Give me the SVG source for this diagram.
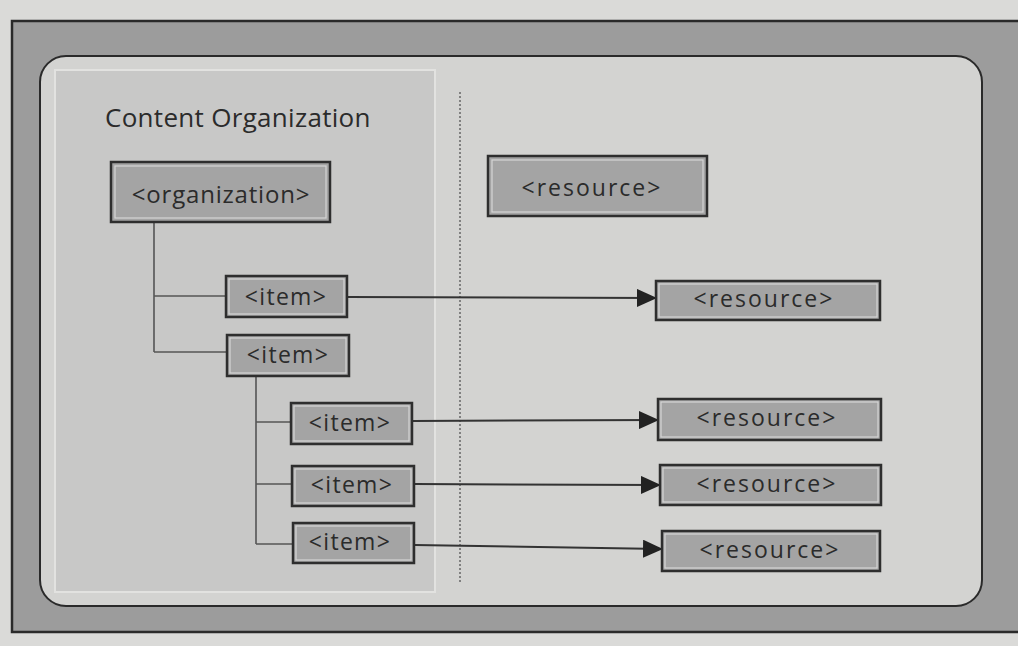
<svg xmlns="http://www.w3.org/2000/svg" width="1018" height="646" viewBox="0 0 1018 646">
<style>
.box{fill:#a4a4a4;stroke:#2e2e2e;stroke-width:2.5}
.hl{fill:none;stroke:#d6d6d6;stroke-width:1.2}
.lbl{font-family:"Open Sans","Noto Sans",sans-serif;fill:#2b2b2b;text-anchor:middle;dominant-baseline:central}
.it{font-size:23px;letter-spacing:1.3px}
.rs{font-size:23px;letter-spacing:2px}
.tree{fill:none;stroke:#555;stroke-width:1.6}
.arr{fill:none;stroke:#333;stroke-width:2;marker-end:url(#ah)}
</style>
<defs>
<marker id="ah" markerWidth="20" markerHeight="18" refX="19" refY="9" orient="auto" markerUnits="userSpaceOnUse">
<path d="M0,0 L20,9 L0,18 Z" fill="#222"/>
</marker>
</defs>
<rect x="0" y="0" width="1018" height="646" fill="#dadad8"/>
<g id="frame">
<rect x="12" y="21" width="1020" height="611" fill="#9c9c9c" stroke="#2a2a2a" stroke-width="2.5"/>
<rect x="40" y="56" width="942" height="550" rx="26" fill="#d3d3d1" stroke="#2a2a2a" stroke-width="2"/>
</g>
<g id="content-organization">
<rect x="55" y="70" width="380" height="522" fill="#c8c8c7" stroke="#e2e2e0" stroke-width="2"/>
<text x="105" y="127" font-family="'Open Sans','Noto Sans',sans-serif" font-size="26" letter-spacing="0.3" fill="#2b2b2b">Content Organization</text>
</g>
<line id="divider" x1="460" y1="92" x2="460" y2="583" stroke="#666" stroke-width="1.5" stroke-dasharray="2,2"/>
<g id="connectors">
<path class="tree" d="M154,222 V352 M154,296 H226 M154,352 H227"/>
<path class="tree" d="M256,377 V544 M256,422 H291 M256,484 H292 M256,544 H293"/>
<line class="arr" x1="348" y1="297" x2="656" y2="298"/>
<line class="arr" x1="413" y1="421" x2="658" y2="420"/>
<line class="arr" x1="415" y1="484" x2="660" y2="485"/>
<line class="arr" x1="415" y1="545" x2="662" y2="549"/>
</g>
<g id="organization">
<rect class="box" x="111" y="162" width="219" height="60"/>
<rect class="hl" x="115" y="166" width="211" height="52"/>
<text class="lbl" x="221" y="193" font-size="24" letter-spacing="0.8">&lt;organization&gt;</text>
</g>
<g id="resource-top">
<rect class="box" x="488" y="156" width="219" height="60"/>
<rect class="hl" x="492" y="160" width="211" height="52"/>
<text class="lbl rs" x="592" y="187">&lt;resource&gt;</text>
</g>
<g id="item1">
<rect class="box" x="226" y="276" width="121" height="41"/>
<rect class="hl" x="229" y="279" width="115" height="35"/>
<text class="lbl it" x="286" y="296">&lt;item&gt;</text>
</g>
<g id="item2">
<rect class="box" x="227" y="335" width="122" height="41"/>
<rect class="hl" x="230" y="338" width="116" height="35"/>
<text class="lbl it" x="288" y="354">&lt;item&gt;</text>
</g>
<g id="item3">
<rect class="box" x="291" y="403" width="121" height="41"/>
<rect class="hl" x="294" y="406" width="115" height="35"/>
<text class="lbl it" x="350" y="422">&lt;item&gt;</text>
</g>
<g id="item4">
<rect class="box" x="292" y="466" width="122" height="40"/>
<rect class="hl" x="295" y="469" width="116" height="34"/>
<text class="lbl it" x="352" y="484">&lt;item&gt;</text>
</g>
<g id="item5">
<rect class="box" x="293" y="523" width="121" height="40"/>
<rect class="hl" x="296" y="526" width="115" height="34"/>
<text class="lbl it" x="350" y="541">&lt;item&gt;</text>
</g>
<g id="resource1">
<rect class="box" x="656" y="281" width="224" height="39"/>
<rect class="hl" x="659" y="284" width="218" height="33"/>
<text class="lbl rs" x="764" y="298">&lt;resource&gt;</text>
</g>
<g id="resource2">
<rect class="box" x="658" y="399" width="223" height="41"/>
<rect class="hl" x="661" y="402" width="217" height="35"/>
<text class="lbl rs" x="767" y="417">&lt;resource&gt;</text>
</g>
<g id="resource3">
<rect class="box" x="660" y="465" width="221" height="40"/>
<rect class="hl" x="663" y="468" width="215" height="34"/>
<text class="lbl rs" x="767" y="483">&lt;resource&gt;</text>
</g>
<g id="resource4">
<rect class="box" x="662" y="531" width="218" height="40"/>
<rect class="hl" x="665" y="534" width="212" height="34"/>
<text class="lbl rs" x="770" y="549">&lt;resource&gt;</text>
</g>
</svg>
